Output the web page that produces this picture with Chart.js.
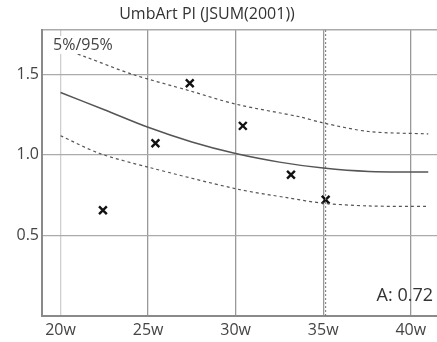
<!DOCTYPE html>
<html>
<head>
<meta charset="utf-8">
<script src="https://cdn.jsdelivr.net/npm/chart.js@4"></script>
<style>
  html, body { margin: 0; padding: 0; background: #fff; overflow: hidden; }
  #wrap { width: 437px; height: 342px; }
</style>
</head>
<body>
<div id="wrap"><canvas id="umbChart" width="437" height="342"></canvas></div>
<script>
// reference curves (JSUM 2001)
var medianWeeks = [20, 22.5, 25, 27.5, 30, 32.5, 35, 37.6, 41];
var medianValues = [1.387, 1.28, 1.171, 1.08, 1.008, 0.955, 0.918, 0.897, 0.893];
var upperWeeks = [20, 21.5, 24.1, 27.4, 30, 33.7, 35, 37.6, 41];
var upperValues = [1.665, 1.605, 1.5, 1.397, 1.315, 1.235, 1.198, 1.145, 1.13];
var lowerWeeks = [20, 22.2, 25, 30, 33, 35, 37.6, 41];
var lowerValues = [1.119, 1.01, 0.924, 0.79, 0.733, 0.70, 0.683, 0.68];

// measurements
var measWeeks = [22.42, 25.42, 27.38, 30.41, 33.16, 35.14];
var measValues = [0.656, 1.072, 1.444, 1.18, 0.877, 0.722];

var currentWeek = 35.14;
var xTicks = [20, 25, 30, 35, 40];
var yTicks = [0.5, 1.0, 1.5];
var xMin = 18.94, xMax = 41.5, yMin = 0, yMax = 1.775;
var chartTitle = 'UmbArt PI (JSUM(2001))';

var FONT = "'Open Sans', 'Noto Sans', sans-serif";

function pts(xs, ys) {
  return xs.map(function(x, i) { return { x: x, y: ys[i] }; });
}

var labelsPlugin = {
  id: 'cornerLabels',
  afterDatasetsDraw: function(chart) {
    var ctx = chart.ctx, a = chart.chartArea;
    ctx.save();
    ctx.textBaseline = 'middle';
    // title
    ctx.font = '16px ' + FONT;
    ctx.textAlign = 'center';
    ctx.fillStyle = '#333';
    ctx.fillText(chartTitle, 207, 14);
    // 5%/95% tag
    ctx.textAlign = 'left';
    ctx.font = '16px ' + FONT;
    var t = '5%/95%';
    var w = ctx.measureText(t).width;
    ctx.fillStyle = '#fff';
    ctx.fillRect(a.left + 10, a.top + 6, w + 2, 18);
    ctx.fillStyle = '#444';
    ctx.fillText(t, a.left + 11, a.top + 15);
    // last value
    ctx.font = '18px ' + FONT;
    ctx.textAlign = 'right';
    ctx.fillStyle = '#333';
    ctx.fillText('A: ' + measValues[measValues.length - 1].toFixed(2), a.right - 4, a.bottom - 20);
    ctx.restore();
  }
};

new Chart(document.getElementById('umbChart').getContext('2d'), {
  type: 'scatter',
  data: {
    datasets: [
      { type: 'line', data: pts(upperWeeks, upperValues), borderColor: '#555', borderWidth: 1.2,
        borderDash: [3, 3], pointRadius: 0, fill: false, tension: 0.3 },
      { type: 'line', data: pts(medianWeeks, medianValues), borderColor: '#555', borderWidth: 1.5,
        pointRadius: 0, fill: false, tension: 0.3 },
      { type: 'line', data: pts(lowerWeeks, lowerValues), borderColor: '#555', borderWidth: 1.2,
        borderDash: [3, 3], pointRadius: 0, fill: false, tension: 0.3 },
      { type: 'line', data: [{ x: currentWeek, y: yMin }, { x: currentWeek, y: yMax }], borderColor: '#777',
        borderWidth: 1, borderDash: [2, 2], pointRadius: 0, fill: false },
      { data: pts(measWeeks, measValues), pointStyle: 'crossRot', pointRadius: 5.5,
        borderColor: '#111', borderWidth: 2.4, backgroundColor: '#111' }
    ]
  },
  options: {
    responsive: false,
    animation: false,
    layout: { autoPadding: false, padding: { left: 0, right: 0, top: 30, bottom: 0 } },
    plugins: {
      legend: { display: false },
      tooltip: { enabled: false },
      title: { display: false }
    },
    scales: {
      x: {
        type: 'linear', min: xMin, max: xMax,
        afterBuildTicks: function(s) { s.ticks = xTicks.map(function(v) { return { value: v }; }); },
        afterFit: function(s) { s.height = 26; s.paddingLeft = 0; s.paddingRight = 0; },
        ticks: { color: '#444', font: { family: FONT, size: 16 }, padding: 5,
          callback: function(v) { return v + 'w'; } },
        grid: { drawTicks: false, lineWidth: 1.3,
          color: function(c) { return c.tick && c.tick.value === 20 ? '#cfcfcf' : '#999'; } },
        border: { color: '#8a8a8a', width: 2 }
      },
      x2: {
        type: 'linear', position: 'top', min: xMin, max: xMax,
        afterFit: function(s) { s.height = 0; s.paddingLeft = 0; s.paddingRight = 0; },
        ticks: { display: false },
        grid: { display: false },
        border: { color: '#aaa', width: 1.5 }
      },
      y: {
        min: yMin, max: yMax,
        afterBuildTicks: function(s) { s.ticks = yTicks.map(function(v) { return { value: v }; }); },
        afterFit: function(s) { s.width = 42; s.paddingTop = 0; s.paddingBottom = 0; },
        ticks: { color: '#444', font: { family: FONT, size: 16 }, padding: 3,
          callback: function(v) { return v.toFixed(1); } },
        grid: { drawTicks: false, color: '#aaa', lineWidth: 1.3 },
        border: { color: '#8a8a8a', width: 2 }
      }
    }
  },
  plugins: [labelsPlugin]
});
</script>
</body>
</html>
